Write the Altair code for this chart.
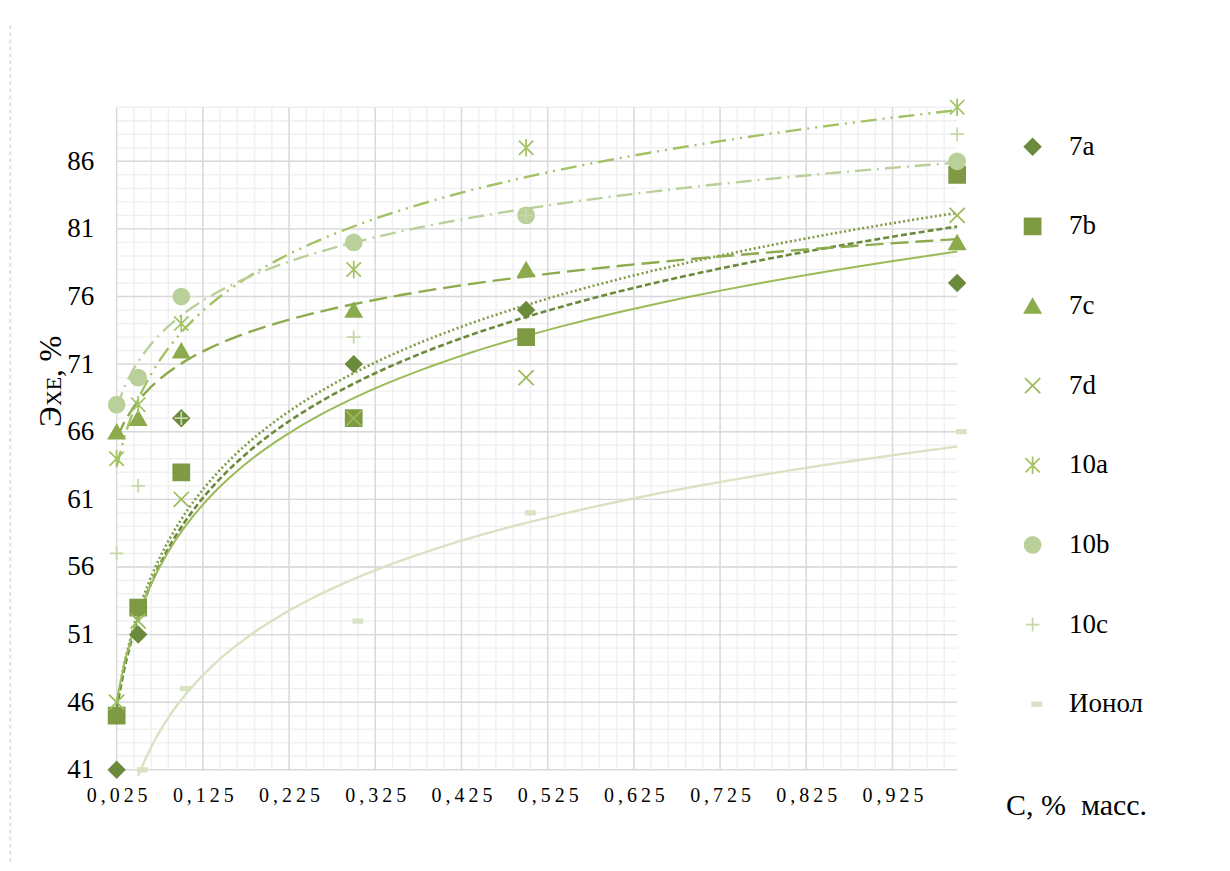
import altair as alt
import pandas as pd
import numpy as np

# ---------------- data ----------------
x_vals = [0.025, 0.05, 0.1, 0.3, 0.5, 1.0]
x_ionol = [0.05, 0.1, 0.3, 0.5, 1.0]

y_7a = [41, 51, 67, 71, 75, 77]
y_7b = [45, 53, 63, 67, 73, 85]
y_7c = [66, 67, 72, 75, 78, 80]
y_7d = [46, 52, 61, 67, 70, 82]
y_10a = [64, 68, 74, 78, 87, 90]
y_10b = [68, 70, 76, 80, 82, 86]
y_10c = [57, 62, 67, 73, 82, 88]
y_ionol = [41, 47, 52, 60, 66]

series_names = ["7a", "7b", "7c", "7d", "10a", "10b", "10c", "Ионол"]
series_x = [x_vals, x_vals, x_vals, x_vals, x_vals, x_vals, x_vals, x_ionol]
series_y = [y_7a, y_7b, y_7c, y_7d, y_10a, y_10b, y_10c, y_ionol]

x_ticks = [0.025, 0.125, 0.225, 0.325, 0.425, 0.525, 0.625, 0.725, 0.825, 0.925]
y_ticks = [41, 46, 51, 56, 61, 66, 71, 76, 81, 86]
x_domain = [0.025, 1.0]
y_domain = [41, 90]

x_title = "С, %\u00a0 масс."

# ---------------- styles ----------------
colors = ["#6B8A3B", "#7E9A43", "#8CAB4D", "#9BBB59", "#A2C264", "#BAD09A", "#C6D8A9", "#D8E3C3"]
shapes = [
    "diamond",
    "square",
    "triangle-up",
    "M-0.95,-0.95L0.95,0.95M-0.95,0.95L0.95,-0.95",
    "M-0.9,-0.9L0.9,0.9M-0.9,0.9L0.9,-0.9M0,-1.1L0,1.1",
    "circle",
    "M-0.85,0L0.85,0M0,-0.85L0,0.85",
    "M-0.05,-0.22L1.1,-0.22L1.1,0.22L-0.05,0.22Z",
]
line_styles = {
    "7a": dict(dash=[6, 3], width=2.6),
    "7b": dict(dash=[2, 2.6], width=2.6),
    "7c": dict(dash=[18, 7], width=2.4),
    "7d": dict(dash=None, width=2.0),
    "10a": dict(dash=[16, 6, 2, 6, 2, 6], width=2.4),
    "10b": dict(dash=[16, 6, 2, 6], width=2.4),
    "Ионол": dict(dash=None, width=2.4),
}

rows = []
for name, xs, ys in zip(series_names, series_x, series_y):
    for xv, yv in zip(xs, ys):
        rows.append({"series": name, "x": xv, "y": yv})
df = pd.DataFrame(rows)

W, H = 841, 663
FONT = "Liberation Serif"

xscale = alt.Scale(domain=x_domain, nice=False, zero=False)
yscale = alt.Scale(domain=y_domain, nice=False, zero=False)

x_axis = alt.Axis(
    values=x_ticks, grid=False, ticks=False, domain=False,
    labelExpr="join(split(replace(format(datum.value, '.3f'), '.', ','), ''), '\u2009')",
    labelFont=FONT, labelFontSize=20, labelColor="black", labelPadding=16,
    labelFlush=False, labelOverlap=False,
    title=x_title, titleFont=FONT, titleFontSize=30, titleFontWeight="normal",
    titleColor="black", titleX=960, titleY=45, titleAlign="center",
    titleBaseline="alphabetic")
y_axis = alt.Axis(
    values=y_ticks, grid=False, ticks=False, domain=False,
    labelFont=FONT, labelFontSize=27, labelColor="black", labelPadding=23,
    labelFlush=False, labelOverlap=False, title=None)

# ---------------- grid ----------------
minor_x = pd.DataFrame({"v": np.round(np.arange(0.045, 0.999, 0.02), 3)})
minor_y = pd.DataFrame({"v": list(range(42, 91))})
major_x = pd.DataFrame({"v": x_ticks})
major_y = pd.DataFrame({"v": y_ticks})

def vrules(d, color, w):
    return alt.Chart(d).mark_rule(color=color, strokeWidth=w).encode(
        x=alt.X("v:Q", scale=xscale, axis=x_axis))

def hrules(d, color, w):
    return alt.Chart(d).mark_rule(color=color, strokeWidth=w).encode(
        y=alt.Y("v:Q", scale=yscale, axis=y_axis))

grid = [
    vrules(minor_x, "#F0F0F0", 1.4),
    hrules(minor_y, "#F0F0F0", 1.4),
    vrules(major_x, "#D9D9D9", 1.4),
    hrules(major_y, "#D9D9D9", 1.4),
]

# ---------------- trendlines ----------------
lines = []
for name, c in zip(series_names, colors):
    if name not in line_styles:
        continue
    st = line_styles[name]
    kw = dict(color=c, strokeWidth=st["width"])
    if st["dash"]:
        kw["strokeDash"] = st["dash"]
    lines.append(
        alt.Chart(df)
        .transform_filter(alt.datum.series == name)
        .transform_regression("x", "y", method="log")
        .mark_line(**kw)
        .encode(x=alt.X("x:Q", scale=xscale, axis=x_axis),
                y=alt.Y("y:Q", scale=yscale, axis=y_axis))
    )

# ---------------- points ----------------
leg = alt.Legend(
    title=None, orient="none", legendX=903, legendY=26, direction="vertical",
    labelFont=FONT, labelFontSize=27, labelColor="black", labelOffset=23,
    rowPadding=51.7, symbolSize=256, symbolStrokeWidth=1.75, symbolOpacity=1,
    labelLimit=300,
)

points = alt.Chart(df).mark_point(filled=True, opacity=1, size=256, strokeWidth=1.75).encode(
    x=alt.X("x:Q", scale=xscale, axis=x_axis),
    y=alt.Y("y:Q", scale=yscale, axis=y_axis),
    fill=alt.Fill("series:N", scale=alt.Scale(domain=series_names, range=colors), legend=leg),
    stroke=alt.Stroke("series:N", scale=alt.Scale(domain=series_names, range=colors), legend=leg),
    shape=alt.Shape("series:N", scale=alt.Scale(domain=series_names, range=shapes), legend=leg),
)

# ---------------- y title (Э + small caps ХЕ + ", %") ----------------
one = pd.DataFrame({"a": [0]})
def ytext(t, size, ypos):
    return alt.Chart(one).mark_text(
        text=t, font=FONT, fontSize=size, angle=270, align="left",
        baseline="alphabetic", color="black").encode(
        x=alt.value(-55.5), y=alt.value(ypos))

ytitle = [ytext("Э", 31, 320), ytext("ХЕ", 22, 299), ytext(", %", 31, 270)]

# left dashed frame line
frame = alt.Chart(one).mark_rule(color="#C8C8C8", strokeDash=[4, 3], strokeWidth=1).encode(
    x=alt.value(-106.5), y=alt.value(-82), y2=alt.value(H + 95))

chart = alt.layer(*grid, *lines, points, *ytitle, frame).properties(
    width=W, height=H,
    padding={"left": 108.7, "top": 99, "right": 265, "bottom": 93},
    autosize=alt.AutoSizeParams(type="none"),
).configure_view(stroke=None)

chart.save("out.html", embed_options={"renderer": "svg", "actions": False})
